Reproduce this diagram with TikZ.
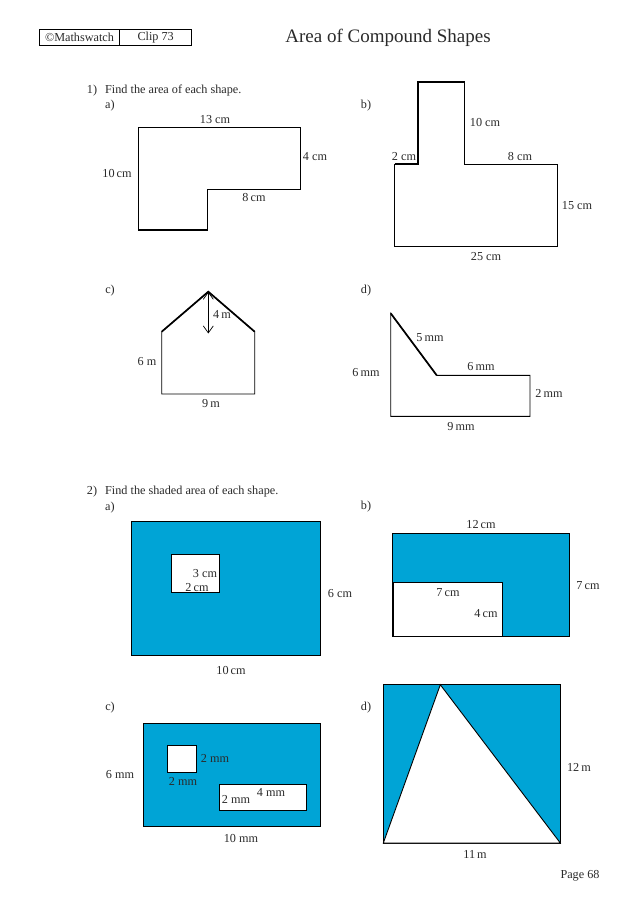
\documentclass[tikz,border=0pt]{standalone}
\usepackage{fontspec}
\setmainfont{Liberation Serif}
\usetikzlibrary{arrows.meta}
\definecolor{mathblue}{HTML}{00A4D6}
\definecolor{inkgrey}{HTML}{2A2A2A}
\begin{document}
\begin{tikzpicture}[x=1pt,y=-1pt,dim/.style={font=\fontsize{12.2}{14}\selectfont,text=inkgrey,inner sep=0pt,yshift=-0.6pt},outline/.style={draw=black,line width=0.9pt,line join=miter},heavy/.style={draw=black,line width=1.7pt},shaded/.style={outline,fill=mathblue},hole/.style={outline,fill=white},clipbox/.style={draw=black,line width=0.7pt,minimum height=16.7pt,inner sep=0pt,font=\fontsize{12.2}{14}\selectfont,text=inkgrey},arrow/.style={{Straight Barb[length=7pt,width=10pt]}-{Straight Barb[length=7pt,width=10pt]},line width=0.7pt}]
  \useasboundingbox[fill=white] (0,0) rectangle (638,903);
  \node[clipbox,minimum width=80.4pt] (brand) at (79.5,37.4) {©Mathswatch};
  \node[clipbox,minimum width=72pt] (clip) at (155.7,37.4) {Clip 73};
  \node[dim,font=\fontsize{19}{22}\selectfont] (title) at (388,37) {Area of Compound Shapes};

  \node[dim] (qone) at (92,90) {1)};
  \node[dim,anchor=west] (qonetext) at (105,90) {Find the area of each shape.};
  \node[dim,anchor=west] (parta) at (105,105) {a)};
  \draw[outline] (138,127.3) -- (300.7,127.3) -- (300.7,189) -- (207.7,189) -- (207.7,229.7) -- (138,229.7) -- cycle;
  \draw[heavy] (138,229.7) -- (207.7,229.7);
  \node[dim] (atop) at (215,119) {13 cm};
  \node[dim] (aright) at (315,156) {4 cm};
  \node[dim] (aleft) at (117,173) {10\,cm};
  \node[dim] (anotch) at (254,197) {8\,cm};

  \node[dim] (partb) at (366,105) {b)};
  \draw[outline] (394.7,164.3) -- (417.7,164.3) -- (417.7,81.7) -- (464.7,81.7) -- (464.7,164.3) -- (557.7,164.3) -- (557.7,246.3) -- (394.7,246.3) -- cycle;
  \draw[heavy] (394.7,164.3) -- (417.7,164.3) -- (417.7,81.7) -- (464.7,81.7);
  \node[dim] (bstem) at (485,122) {10 cm};
  \node[dim] (bstep) at (404,156) {2 cm};
  \node[dim] (bshelf) at (520,156) {8 cm};
  \node[dim] (bright) at (577,205) {15 cm};
  \node[dim] (bbase) at (486,256) {25 cm};

  \node[dim] (partc) at (110,290) {c)};
  \draw[outline] (161.7,331.7) -- (208.3,291.7) -- (254.7,331.7) -- (254.7,394) -- (161.7,394) -- cycle;
  \draw[heavy] (161.7,331.7) -- (208.3,291.7) -- (254.7,331.7);
  \coordinate (roof) at (208.3,291.7);
  \coordinate (foot) at (208.3,333.5);
  \draw[arrow] (roof) -- (foot);
  \node[dim] (croof) at (222,314) {4\,m};
  \node[dim] (cside) at (147,361) {6 m};
  \node[dim] (cbase) at (211,403) {9\,m};

  \node[dim] (partd) at (366,290) {d)};
  \draw[outline] (390.7,313.3) -- (436.7,375.3) -- (530,375.3) -- (530,416.3) -- (390.7,416.3) -- cycle;
  \draw[heavy] (390.7,313.3) -- (436.7,375.3);
  \node[dim] (dslant) at (430,337) {5\,mm};
  \node[dim] (dshelf) at (481,366) {6\,mm};
  \node[dim] (dleft) at (366,372) {6\,mm};
  \node[dim] (dright) at (549,393) {2\,mm};
  \node[dim] (dbase) at (461,426) {9\,mm};

  \node[dim] (qtwo) at (92,491) {2)};
  \node[dim,anchor=west] (qtwotext) at (105,491) {Find the shaded area of each shape.};
  \node[dim,anchor=west] (shadea) at (105,507) {a)};
  \draw[shaded] (131.7,521.3) rectangle (320.7,655.3);
  \draw[hole] (171.7,554.7) rectangle (219.3,592.3);
  \node[dim] (sawide) at (205,573) {3 cm};
  \node[dim] (sahigh) at (197,586.5) {2\,cm};
  \node[dim] (saright) at (340,593) {6 cm};
  \node[dim] (sabase) at (231,670) {10\,cm};

  \node[dim] (shadeb) at (366,506) {b)};
  \draw[shaded] (392.7,533.3) rectangle (569.3,636.3);
  \draw[hole] (392.7,582.3) rectangle (502.3,636.3);
  \draw[heavy] (392.7,582.3) -- (392.7,636.3);
  \node[dim] (sbtop) at (481,524) {12\,cm};
  \node[dim] (sbright) at (588,585) {7\,cm};
  \node[dim] (sbwide) at (448,592) {7\,cm};
  \node[dim] (sbhigh) at (486,613) {4\,cm};

  \node[dim] (shadec) at (110,707) {c)};
  \draw[shaded] (143.3,723.3) rectangle (320.3,826.3);
  \draw[hole] (167.3,745.3) rectangle (196.3,772.3);
  \draw[hole] (219.3,784.3) rectangle (306.3,810.3);
  \node[dim] (scsqr) at (215,758) {2 mm};
  \node[dim] (scsqb) at (183,781) {2 mm};
  \node[dim] (scleft) at (120,774) {6 mm};
  \node[dim] (scwide) at (271,792) {4 mm};
  \node[dim] (schigh) at (236,799) {2 mm};
  \node[dim] (scbase) at (241,838) {10 mm};

  \node[dim] (shaded) at (366,707) {d)};
  \draw[shaded] (383.3,684.7) rectangle (560.3,843);
  \draw[hole] (383.3,843) -- (440.3,684.7) -- (560.3,843) -- cycle;
  \node[dim] (sdright) at (579,767) {12\,m};
  \node[dim] (sdbase) at (475,854) {11\,m};
  \node[dim] (page) at (580,875) {Page 68};
\end{tikzpicture}
\end{document}
